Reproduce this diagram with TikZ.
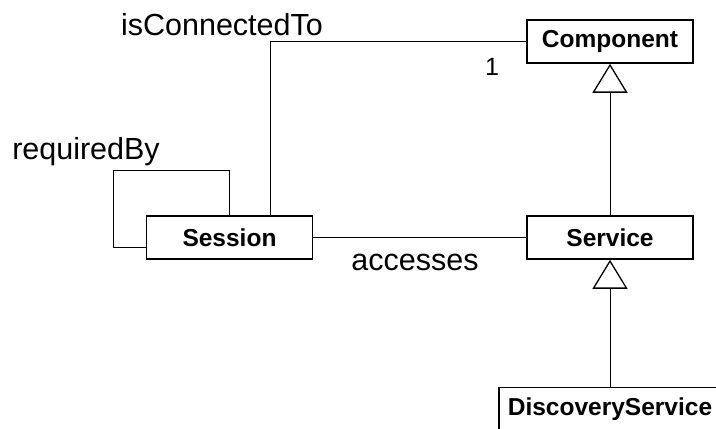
\documentclass[tikz,border=0pt]{standalone}
\usepackage{fontspec}
\setmainfont{Liberation Sans}
\usetikzlibrary{arrows.meta, positioning}

\begin{document}
\begin{tikzpicture} [x=1pt, y=1pt, on grid, auto,
    cls/.style = {draw, line width=1.6pt, minimum width=166pt, minimum height=43pt,
                  inner sep=0pt, font=\bfseries\fontsize{24.5}{27}\selectfont},
    lbl/.style = {font=\fontsize{30.5}{34}\selectfont, inner sep=0pt},
    assoc/.style = {line width=1pt},
    gen/.style = {line width=1pt, -{Triangle[open, width=35pt, length=29pt, line width=1.3pt]}}]

\clip (0,0) rectangle (716,429);

\node (session) [cls] at (229.5,191.5) {Session};
\node (service) [cls, right = 380.5pt of session] {Service};
\node (component) [cls, above = 196pt of service] {Component};
\node (discovery) [cls, minimum width=222pt, below = 171.5pt of service] {DiscoveryService};

\node (isconn) [lbl] at (222,404) {isConnectedTo};
\node (reqby) [lbl] at (86,277) {requiredBy};
\node (acc) [lbl] at (415,167) {accesses};
\node (one) [lbl, font=\fontsize{25}{28}\selectfont] at (492,362) {1};

\draw [assoc] ([xshift=40.5pt]session.north) |- (component.west);
\draw [assoc] ([xshift=-0.5pt]session.north) -- ++(0,45)
    -| ([xshift=-32pt, yshift=-10.5pt]session.west) -- ([yshift=-10.5pt]session.west);
\draw [assoc] (session.east) -- (service.west);

\draw [gen] (service.north) -- (component.south);
\draw [gen] (discovery.north) -- (service.south);
\end{tikzpicture}
\end{document}
